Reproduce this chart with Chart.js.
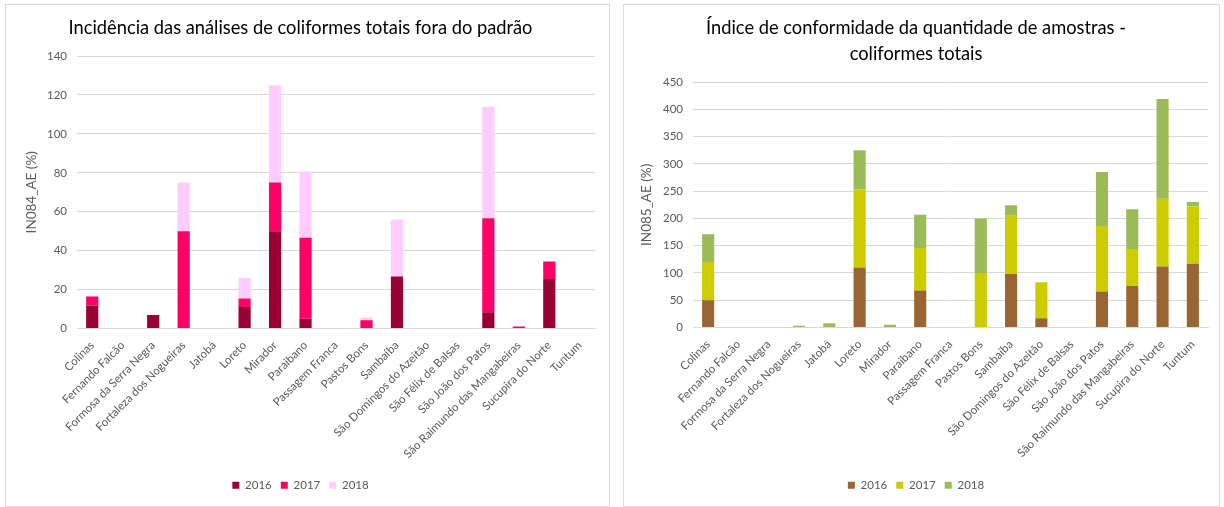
<!DOCTYPE html>
<html>
<head>
<meta charset="utf-8">
<script src="https://cdn.jsdelivr.net/npm/chart.js@4"></script>
<style>
  body { margin:0; background:#fff; width:1224px; height:507px; overflow:hidden; }
  .panel { position:absolute; border:1px solid #d9d9d9; background:#fff; }
  #p1 { left:5px; top:4px; width:603px; height:501px; }
  #p2 { left:623px; top:4px; width:595px; height:501px; }
</style>
</head>
<body>
<div class="panel" id="p1"><canvas id="chart1" width="603" height="501"></canvas></div>
<div class="panel" id="p2"><canvas id="chart2" width="595" height="501"></canvas></div>
<script>
// Municípios
const cities = ["Colinas","Fernando Falcão","Formosa da Serra Negra","Fortaleza dos Nogueiras","Jatobá","Loreto","Mirador","Paraibano","Passagem Franca","Pastos Bons","Sambaíba","São Domingos do Azeitão","São Félix de Balsas","São João dos Patos","São Raimundo das Mangabeiras","Sucupira do Norte","Tuntum"];
const years = ["2016","2017","2018"];

// IN084_AE (%) - incidência fora do padrão
const in084_2016 = [11.8,0,7,0,0,11,50,5,0,0,26.7,0,0,8.4,0,25.4,0];
const in084_2017 = [4.7,0,0,50,0,4.4,25,41.7,0,4.3,0,0,0,48.3,1,9,0];
const in084_2018 = [0,0,0,25,0,10.6,50,34,0,1.3,29.3,0,0,57.3,0,0,0];

// IN085_AE (%) - conformidade da quantidade de amostras
const in085_2016 = [50,0,0,0,0,110,0,68,0,0,98,17,0,66,76,112,117];
const in085_2017 = [70,0,0,0,0,143,0,78,0,100,107,66,0,120,68,124,105];
const in085_2018 = [51,0,0,3,8,72,5,61,0,100,19,0,0,99,73,183,8];

const colors1 = ["#990033","#ff0066","#ffccff"];
const colors2 = ["#996633","#cccc00","#9bbb59"];

const FONT = "Lato, 'Open Sans', sans-serif";
const GRAY = "#595959";
const GRID = "#d9d9d9";

function makeChart(id, title, yTitle, series, colors, yMax, step, opts) {
  const ctx = document.getElementById(id).getContext("2d");
  return new Chart(ctx, {
    type: "bar",
    data: {
      labels: cities,
      datasets: series.map((d, i) => ({
        label: years[i], data: d, backgroundColor: colors[i],
        borderWidth: 0, categoryPercentage: 1, barPercentage: 0.4
      }))
    },
    options: {
      responsive: false,
      animation: false,
      layout: { padding: { left: 0, right: opts.padRight, top: 0, bottom: opts.padBottom } },
      plugins: {
        title: {
          display: true, text: title, color: "#000",
          font: { family: FONT, size: 18.3, weight: "normal", lineHeight: 1.37 },
          padding: { top: opts.titleTop, bottom: opts.titleBottom }
        },
        legend: {
          position: "bottom",
          labels: { boxWidth: 7, boxHeight: 7, padding: 9, color: GRAY, font: { family: FONT, size: 11.5 } }
        },
        tooltip: { enabled: false }
      },
      scales: {
        x: {
          stacked: true,
          grid: { display: false },
          border: { display: true, color: GRID },
          ticks: { color: GRAY, font: { family: FONT, size: 11.5 }, minRotation: 45, maxRotation: 45, autoSkip: false, padding: 2 },
          afterFit: s => { s.height = opts.xHeight; }
        },
        y: {
          stacked: true, min: 0, max: yMax,
          grid: { color: GRID, drawTicks: false },
          border: { display: false },
          ticks: { stepSize: step, color: GRAY, padding: 10, font: { family: FONT, size: 11.5 } },
          title: { display: true, text: yTitle, color: GRAY, font: { family: FONT, size: 13.5 }, padding: { top: opts.yTitlePad, bottom: 0 } },
          afterFit: s => { s.width = opts.yWidth; }
        }
      }
    }
  });
}

makeChart("chart1", "Incidência das análises de coliformes totais fora do padrão", "IN084_AE (%)",
  [in084_2016, in084_2017, in084_2018], colors1, 140, 20,
  { padRight: 14, padBottom: 5, titleTop: 11, titleBottom: 15, xHeight: 142, yWidth: 71, yTitlePad: 18 });

makeChart("chart2", ["Índice de conformidade da quantidade de amostras -", "coliformes totais"], "IN085_AE (%)",
  [in085_2016, in085_2017, in085_2018], colors2, 450, 50,
  { padRight: 11, padBottom: 5, titleTop: 11, titleBottom: 16, xHeight: 143, yWidth: 69, yTitlePad: 15 });
</script>
</body>
</html>
